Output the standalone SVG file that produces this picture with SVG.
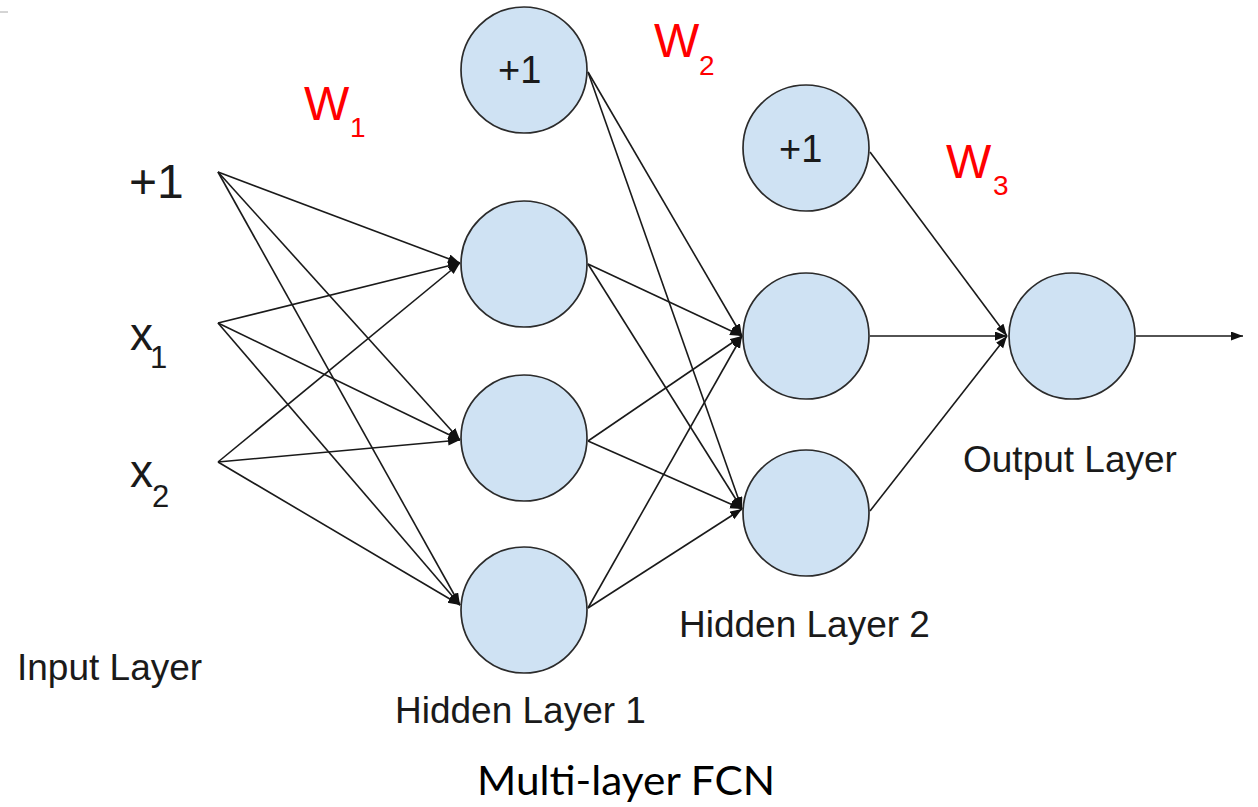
<svg xmlns="http://www.w3.org/2000/svg" width="1258" height="807" viewBox="0 0 1258 807">
  <style>
    .node { fill: #cfe2f3; stroke: #2b2b2b; stroke-width: 1.7; }
    .edge { stroke: #1a1a1a; stroke-width: 1.6; fill: none; marker-end: url(#arrow); }
    .lbl { font-family: "Liberation Sans", Arial, sans-serif; fill: #1a1a1a; }
    .w { font-family: "Liberation Sans", Arial, sans-serif; fill: #ff0000; }
    .cap { font-family: Lato, "Open Sans", sans-serif; fill: #000; }
  </style>
  <defs>
    <marker id="arrow" markerUnits="userSpaceOnUse" markerWidth="14" markerHeight="10" refX="12" refY="4.5" orient="auto">
      <path d="M0,0 L12,4.5 L0,9 z" fill="#111"/>
    </marker>
  </defs>
  <rect width="1258" height="807" fill="#ffffff"/>
  <line x1="0" y1="12" x2="8" y2="12" stroke="#aaaaaa" stroke-width="1"/>

  <!-- connectors -->
  <g id="connectors">
    <!-- input layer to hidden layer 1 -->
    <line class="edge" x1="218" y1="172" x2="460" y2="263"/>
    <line class="edge" x1="218" y1="172" x2="460" y2="440"/>
    <line class="edge" x1="218" y1="172" x2="460" y2="605"/>
    <line class="edge" x1="218" y1="323" x2="460" y2="263"/>
    <line class="edge" x1="218" y1="323" x2="460" y2="440"/>
    <line class="edge" x1="218" y1="323" x2="460" y2="605"/>
    <line class="edge" x1="218" y1="462" x2="460" y2="263"/>
    <line class="edge" x1="218" y1="462" x2="460" y2="440"/>
    <line class="edge" x1="218" y1="462" x2="460" y2="605"/>
    <!-- hidden layer 1 to hidden layer 2 -->
    <line class="edge" x1="588" y1="72" x2="742" y2="336"/>
    <line class="edge" x1="588" y1="72" x2="742" y2="509"/>
    <line class="edge" x1="588" y1="264" x2="742" y2="336"/>
    <line class="edge" x1="588" y1="264" x2="742" y2="509"/>
    <line class="edge" x1="588" y1="441" x2="742" y2="336"/>
    <line class="edge" x1="588" y1="441" x2="742" y2="509"/>
    <line class="edge" x1="588" y1="608" x2="742" y2="336"/>
    <line class="edge" x1="588" y1="608" x2="742" y2="509"/>
    <!-- hidden layer 2 to output -->
    <line class="edge" x1="870" y1="152" x2="1007" y2="336"/>
    <line class="edge" x1="870" y1="336" x2="1007" y2="336"/>
    <line class="edge" x1="870" y1="511" x2="1007" y2="336"/>
    <!-- output -->
    <line class="edge" x1="1136" y1="336" x2="1243" y2="336"/>
  </g>

  <!-- input layer -->
  <g id="in-bias"><text class="lbl" x="129" y="198" font-size="48">+1</text></g>
  <g id="in-x1">
    <text class="lbl" x="130" y="350" font-size="46">x</text>
    <text class="lbl" x="150" y="368" font-size="31">1</text>
  </g>
  <g id="in-x2">
    <text class="lbl" x="130" y="487" font-size="46">x</text>
    <text class="lbl" x="152" y="507" font-size="31">2</text>
  </g>

  <!-- hidden layer 1 -->
  <g id="h1-bias">
    <circle class="node" cx="524" cy="70" r="63"/>
    <text class="lbl" x="498" y="83" font-size="38">+1</text>
  </g>
  <g id="h1-n1"><circle class="node" cx="524" cy="264" r="63"/></g>
  <g id="h1-n2"><circle class="node" cx="524" cy="438" r="63"/></g>
  <g id="h1-n3"><circle class="node" cx="524" cy="610" r="63"/></g>

  <!-- hidden layer 2 -->
  <g id="h2-bias">
    <circle class="node" cx="806" cy="148" r="63"/>
    <text class="lbl" x="779" y="162" font-size="38">+1</text>
  </g>
  <g id="h2-n1"><circle class="node" cx="806" cy="336" r="63"/></g>
  <g id="h2-n2"><circle class="node" cx="806" cy="513" r="63"/></g>

  <!-- output layer -->
  <g id="out"><circle class="node" cx="1072" cy="336" r="63"/></g>

  <!-- weight labels -->
  <g id="w1">
    <text class="w" x="304" y="120" font-size="48">W</text>
    <text class="w" x="350" y="137" font-size="28">1</text>
  </g>
  <g id="w2">
    <text class="w" x="654" y="57" font-size="48">W</text>
    <text class="w" x="699" y="75" font-size="28">2</text>
  </g>
  <g id="w3">
    <text class="w" x="946" y="178" font-size="48">W</text>
    <text class="w" x="993" y="195" font-size="28">3</text>
  </g>

  <!-- layer captions -->
  <g id="captions">
    <text class="lbl" x="17" y="680" font-size="37">Input Layer</text>
    <text class="lbl" x="395" y="723" font-size="37">Hidden Layer 1</text>
    <text class="lbl" x="679" y="637" font-size="37">Hidden Layer 2</text>
    <text class="lbl" x="963" y="472" font-size="37">Output Layer</text>
  </g>

  <g id="title">
    <text class="cap" x="477" y="795" font-size="41" textLength="298" lengthAdjust="spacingAndGlyphs">Multi-layer FCN</text>
  </g>
</svg>
